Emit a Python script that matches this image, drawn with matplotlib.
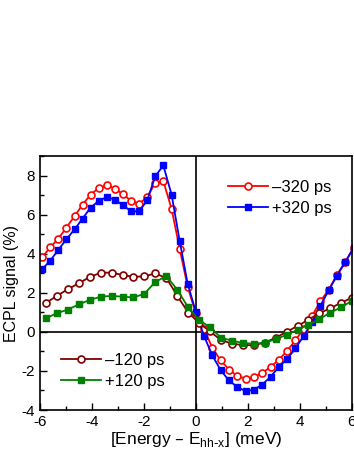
import matplotlib
matplotlib.use("Agg")
import matplotlib.pyplot as plt
from matplotlib.ticker import MultipleLocator

plt.rcParams["font.family"] = ["Liberation Sans", "DejaVu Sans"]
plt.rcParams["axes.unicode_minus"] = False

# 320 ps data (energy in meV, ECPL in %)
energy_320 = [-5.92, -5.61, -5.30, -4.99, -4.67, -4.36, -4.05, -3.74, -3.43, -3.12,
              -2.80, -2.49, -2.18, -1.87, -1.56, -1.25, -0.93, -0.62, -0.31, 0.00,
              0.32, 0.64, 0.96, 1.28, 1.60, 1.92, 2.24, 2.56, 2.88, 3.20,
              3.52, 3.84, 4.16, 4.48, 4.80, 5.12, 5.44, 5.76, 6.08]
neg_320 = [3.81, 4.32, 4.76, 5.32, 5.92, 6.51, 7.02, 7.36, 7.50, 7.33,
           7.04, 6.70, 6.56, 6.90, 7.62, 7.72, 6.29, 4.25, 2.30, 0.95,
           0.15, -0.83, -1.46, -1.93, -2.26, -2.39, -2.32, -2.10, -1.80, -1.43,
           -0.97, -0.43, 0.16, 0.82, 1.56, 2.16, 2.92, 3.59, 4.30]
pos_320 = [3.20, 3.64, 4.18, 4.73, 5.24, 5.80, 6.36, 6.70, 6.90, 6.77,
           6.48, 6.17, 6.17, 6.73, 7.96, 8.52, 7.02, 4.66, 2.45, 1.04,
           -0.22, -1.21, -1.96, -2.49, -2.82, -3.04, -2.96, -2.70, -2.30, -1.80,
           -1.39, -0.85, -0.20, 0.50, 1.33, 2.12, 2.88, 3.56, 4.30]

# 120 ps data
energy_120 = [-5.77, -5.35, -4.93, -4.51, -4.09, -3.66, -3.24, -2.82, -2.40, -1.98,
              -1.56, -1.13, -0.71, -0.29, 0.13, 0.55, 0.97, 1.39, 1.81, 2.24,
              2.66, 3.08, 3.50, 3.92, 4.34, 4.76, 5.19, 5.61, 6.03]
neg_120 = [1.48, 1.84, 2.18, 2.48, 2.80, 3.03, 3.03, 2.91, 2.82, 2.84,
           2.99, 2.75, 1.84, 0.99, 0.45, 0.02, -0.42, -0.60, -0.68, -0.68,
           -0.55, -0.30, 0.00, 0.30, 0.62, 0.95, 1.21, 1.50, 1.75]
pos_120 = [0.70, 0.95, 1.14, 1.40, 1.63, 1.80, 1.84, 1.80, 1.76, 1.95,
           2.55, 2.86, 2.15, 1.25, 0.60, 0.24, -0.30, -0.45, -0.57, -0.61,
           -0.55, -0.38, -0.15, 0.10, 0.36, 0.65, 0.99, 1.26, 1.60]

fig = plt.figure(figsize=(3.54, 4.58), dpi=100)
ax = fig.add_axes([40 / 354, 1 - 410 / 458, 311.5 / 354, 254 / 458])

l1, = ax.plot(energy_320, neg_320, "-o", color="red", lw=1.3, ms=5,
              mfc="white", mec="red", mew=1.2, label="–320 ps")
l2, = ax.plot(energy_320, pos_320, "-s", color="blue", lw=1.3, ms=4.5,
              mec="blue", label="+320 ps")
l3, = ax.plot(energy_120, neg_120, "-o", color="#800000", lw=1.3, ms=5,
              mfc="white", mec="#800000", mew=1.2, label="–120 ps")
l4, = ax.plot(energy_120, pos_120, "-s", color="#008000", lw=1.3, ms=4.5,
              mec="#008000", label="+120 ps")

ax.axhline(0, color="black", lw=1.2, zorder=0.5)
ax.axvline(0, color="black", lw=1.2, zorder=0.5)

ax.set_xlim(-6, 6)
ax.set_ylim(-4, 9)
ax.xaxis.set_major_locator(MultipleLocator(2))
ax.xaxis.set_minor_locator(MultipleLocator(1))
ax.yaxis.set_major_locator(MultipleLocator(2))
ax.yaxis.set_minor_locator(MultipleLocator(1))
ax.tick_params(which="both", direction="in", labelsize=11, width=1)
ax.tick_params(which="major", length=5)
ax.tick_params(which="minor", length=3)
for s in ax.spines.values():
    s.set_linewidth(1.2)

ax.set_xlabel("[Energy – E$_{\\mathregular{hh\\text{-}x}}$] (meV)", fontsize=12.5, labelpad=1)
ax.set_ylabel("ECPL signal (%)", fontsize=11.5, labelpad=2)

leg1 = ax.legend(handles=[l1, l2], loc="upper left", bbox_to_anchor=(0.603, 0.906),
                 frameon=False, fontsize=12, handlelength=2.4, handletextpad=0.25,
                 borderaxespad=0, borderpad=0, labelspacing=0.37)
ax.add_artist(leg1)
ax.legend(handles=[l3, l4], loc="upper left", bbox_to_anchor=(0.068, 0.224),
          frameon=False, fontsize=12, handlelength=2.4, handletextpad=0.25,
          borderaxespad=0, borderpad=0, labelspacing=0.37)

fig.savefig("out.png", dpi=100)
